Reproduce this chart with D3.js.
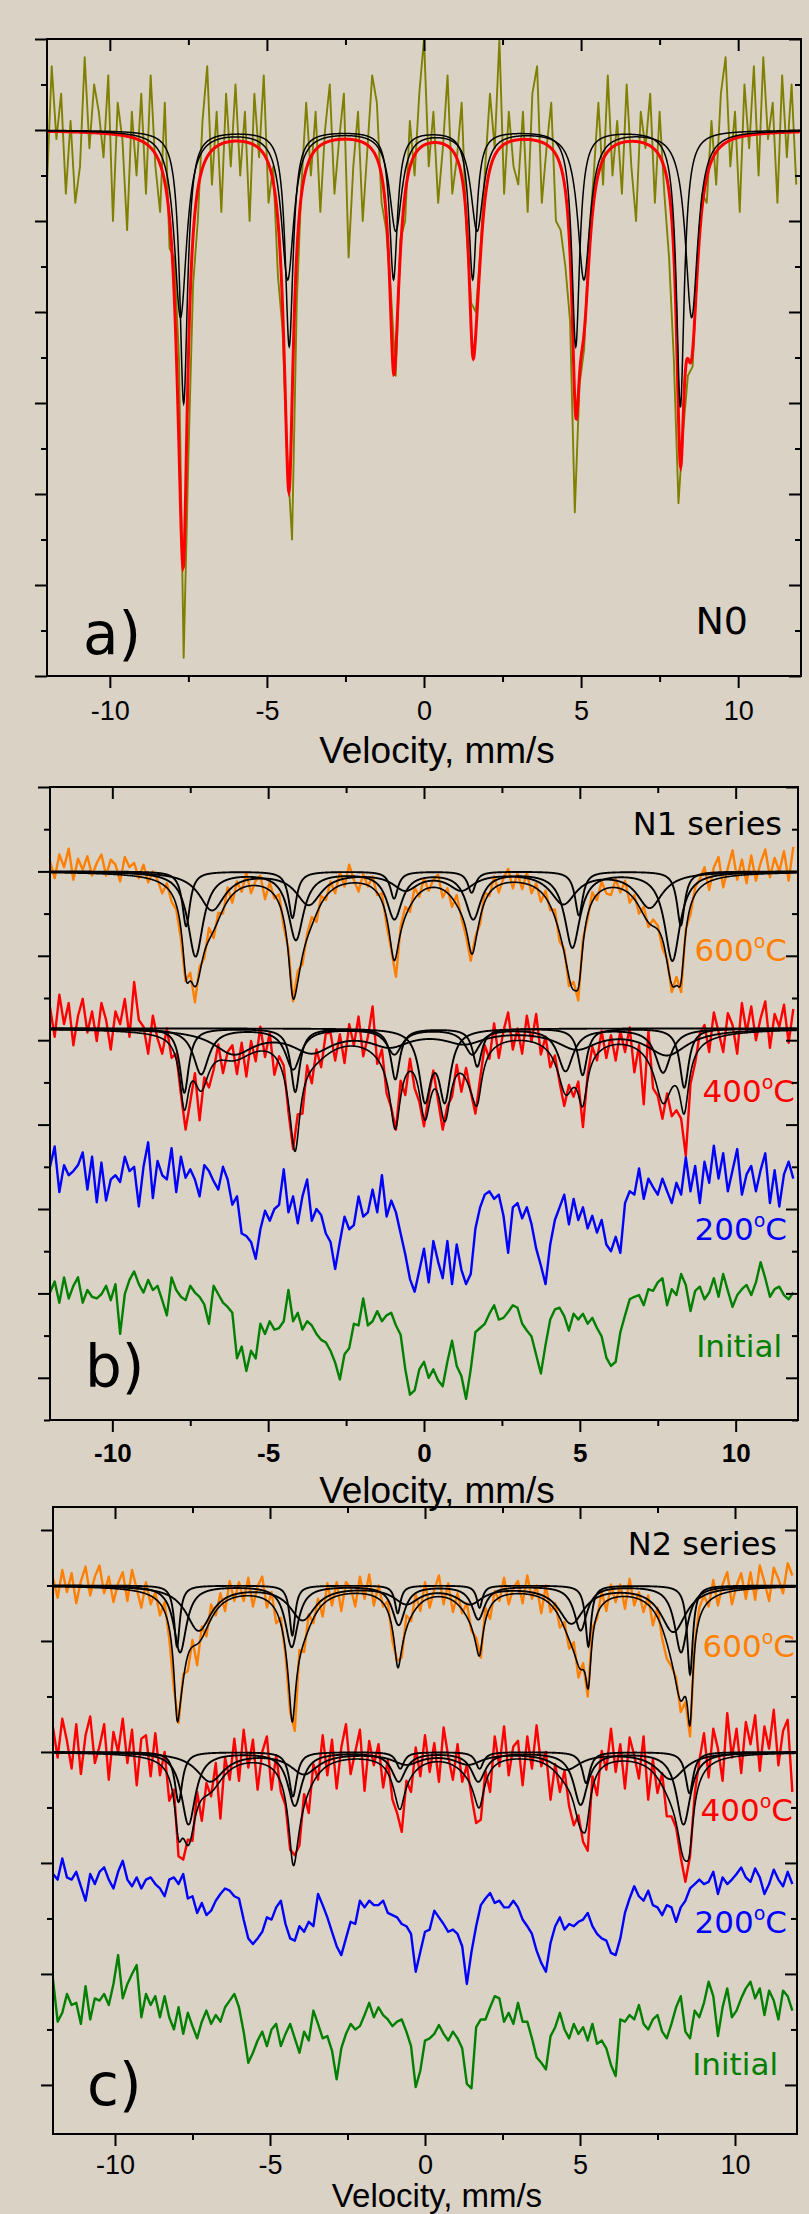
<!DOCTYPE html>
<html>
<head>
<meta charset="utf-8">
<script src="https://cdn.jsdelivr.net/npm/d3@7"></script>
<style>
  body { margin: 0; background: #dbd2c6; }
  svg { display: block; }
</style>
</head>
<body>
<svg id="chart" width="809" height="2214"></svg>
<script>
// ---- channel grid (mm/s) ----
var vStart = -12, vStep = 0.15, nChannels = 160;

// ---- N0 : transmission, % ----
var n0Trans = [
  99.4,100.7,99.9,100.4,99.3,100.1,99.2,99.6,100.8,99.8,
  100.5,100.2,99.7,100.6,99.0,100.3,99.9,98.9,100.2,99.5,
  100.4,99.3,100.6,99.6,99.1,100.3,98.7,98.6,97.5,94.2,
  96.4,98.3,99.0,100.1,100.7,99.4,100.2,99.1,100.4,99.6,
  100.5,99.5,100.2,99.0,100.4,99.7,100.6,99.2,99.6,98.4,
  97.8,96.4,95.5,98.1,99.4,100.3,99.5,100.2,99.1,100.0,
  100.5,99.3,99.9,100.4,98.6,99.6,100.2,99.0,99.8,100.6,
  100.3,99.2,98.9,98.2,97.3,98.8,99.0,100.1,99.5,100.4,
  101.0,99.6,100.2,99.2,99.8,100.6,99.3,99.7,100.3,98.9,
  98.1,98.0,98.7,99.6,100.4,99.8,101.0,99.3,100.2,99.6,
  99.4,100.2,99.1,100.4,100.7,99.2,99.8,100.3,99.0,98.9,
  98.5,97.9,95.8,97.2,97.6,98.8,99.5,100.3,99.4,100.6,
  99.5,100.1,99.3,100.5,99.6,99.0,100.2,99.8,100.4,99.2,
  100.2,99.3,98.6,97.5,95.9,96.7,97.3,97.4,98.5,99.3,
  99.2,100.1,99.4,100.4,100.8,99.6,100.2,99.1,100.5,99.8,
  100.7,99.5,100.8,99.9,100.3,99.2,100.6,99.7,100.5,99.4
];
var n0Base = 100;
var n0Pos = [[-7.65,-4.29,-0.97,1.55,4.83,8.16],[-7.75,-4.34,-0.9,1.69,5.09,8.52]];
var n0Depth = [[3.0,2.37,1.63,1.63,2.37,3.04],[2.05,1.63,1.09,1.09,1.63,2.05]];
var n0Fwhm = [0.3,0.48];

// ---- N1 series : relative to each spectrum's offset ----
var n1Offsets = [7.0,5.14,3.46,2.01];
var n1T600 = [
  .12,-.08,.2,.05,.27,-.1,.15,.02,.18,-.05,
  .1,.2,-.05,.14,.08,-.12,.17,.05,.1,-.08,
  .08,-.13,0,-.1,-.26,-.14,-.36,-.45,-.8,-1.3,
  -1.2,-1.55,-1.13,-1.03,-.67,-.79,-.49,-.5,-.19,-.37,
  -.12,-.24,-.02,-.26,-.11,-.05,-.33,-.13,-.32,-.27,
  -.66,-.92,-1.54,-1.18,-1.1,-.74,-.54,-.6,-.29,-.34,
  -.12,-.26,-.01,-.18,.08,-.1,-.24,-.03,-.18,-.06,
  -.28,-.26,-.64,-.93,-1.25,-.66,-.42,-.48,-.19,-.3,
  -.08,-.23,-.1,-.04,-.31,-.2,-.42,-.28,-.55,-.77,
  -1.06,-.77,-.62,-.25,-.29,-.06,-.25,-.08,.03,-.2,
  -.02,-.21,-.02,-.26,-.14,-.36,-.23,-.46,-.45,-.83,
  -.92,-1.36,-1.31,-1.53,-.8,-.56,-.25,-.34,-.12,-.26,
  -.28,-.09,-.25,-.11,-.37,-.28,-.5,-.42,-.66,-.57,
  -.64,-.91,-1.04,-1.43,-1.25,-1.43,-.68,-.51,-.19,-.09,
  .05,-.22,.05,.17,-.19,.04,.25,-.1,.14,-.14,
  .19,-.11,.1,.26,-.07,.16,0,.24,-.11,.29
];
var n1T400 = [
  .25,-.1,.4,.05,.3,-.2,.15,.35,-.05,.2,
  -.15,.3,.1,-.25,.2,.05,.35,-.1,.55,.1,
  .02,-.3,.15,-.12,-.3,0,-.35,-.3,-.78,-1.2,
  -.87,-.53,-1.09,-.58,-.7,-.49,-.19,-.53,-.28,-.2,
  -.54,-.17,-.57,-.15,-.39,.02,-.34,-.05,-.55,-.33,
  -.44,-.99,-1.43,-1.02,-1.01,-.44,-.65,-.25,-.46,-.06,
  -.05,-.38,-.07,-.41,.05,-.2,.14,-.33,-.1,.26,
  -.42,-.25,-.77,-.94,-1.2,-.62,-.79,-.36,-.71,-.87,
  -1.16,-.8,-.5,-.85,-1.2,-.92,-.81,-.43,-.75,-.47,
  -.75,-1.01,-.6,-.2,-.36,.06,-.35,-.03,.19,-.25,
  0,-.3,.15,-.16,.17,-.31,-.1,-.46,-.32,-.64,
  -.92,-.67,-.81,-.63,-1.17,-.55,-.22,-.38,-.03,-.35,
  -.08,-.38,-.03,-.28,.01,-.52,-.2,-.9,-.03,-.71,
  -.8,-1.07,-.77,-1.04,-.97,-1.07,-1.51,-.66,-.41,-.06,
  .04,-.28,.19,-.04,-.28,.18,.04,-.3,.3,-.05,
  .26,-.14,.12,.32,-.23,.17,.02,.28,-.17,.23
];
var n1T200 = [
  .04,.28,-.26,.06,-.06,-.01,.06,.21,-.23,.16,
  -.38,.09,-.36,-.11,-.06,-.14,.16,-.01,.04,-.43,
  .04,.33,-.33,.11,-.06,-.11,.26,-.26,.16,-.09,
  .01,-.11,-.31,.06,-.01,-.13,-.23,.04,-.11,-.41,
  -.31,-.75,-.78,-.85,-1.05,-.7,-.48,-.6,-.46,-.41,
  .01,-.5,-.31,-.63,-.31,-.11,-.6,-.46,-.53,-.75,
  -.85,-1.17,-.85,-.55,-.7,-.65,-.31,-.55,-.5,-.23,
  -.5,-.06,-.55,-.36,-.5,-.75,-1.0,-1.29,-1.44,-1.19,
  -.93,-1.33,-.84,-1.08,-1.28,-.84,-1.35,-.88,-1.18,-1.35,
  -1.23,-.69,-.44,-.29,-.25,-.34,-.29,-.54,-.98,-.44,
  -.39,-.57,-.44,-.64,-.93,-1.13,-1.35,-.88,-.59,-.44,
  -.29,-.64,-.34,-.59,-.44,-.69,-.54,-.74,-.59,-.88,
  -.96,-.79,-.98,-.39,-.25,-.29,.02,-.34,-.1,-.2,
  -.29,-.1,-.25,-.39,-.15,-.29,.15,-.25,.05,-.39,
  .1,-.15,.29,-.1,.2,-.25,0,.25,-.29,-.05,
  .05,-.25,0,.2,-.39,0,-.43,-.05,.1,-.1
];
var n1Init = [
  0,.13,-.12,.18,-.07,.08,.18,-.12,.03,-.05,
  -.07,-.02,.08,-.09,.1,-.49,-.02,.15,.25,.1,
  0,.15,.03,.08,-.09,-.27,.18,.03,-.05,-.09,
  .08,0,-.05,-.14,-.37,.08,-.02,-.12,-.17,-.24,
  -.78,-.64,-.93,-.69,-.78,-.37,-.49,-.34,-.44,-.42,
  -.34,.03,-.34,-.24,-.44,-.34,-.39,-.49,-.56,-.59,
  -.69,-.83,-1.03,-.73,-.66,-.37,-.39,-.07,-.39,-.34,
  -.22,-.34,-.27,-.24,-.39,-.5,-.91,-1.21,-1.16,-.91,
  -.82,-1.01,-.91,-1.04,-1.11,-.82,-.57,-.87,-.99,-1.26,
  -.91,-.47,-.42,-.37,-.25,-.15,-.32,-.3,-.23,-.15,
  -.18,-.37,-.45,-.52,-.74,-.96,-.62,-.32,-.2,-.18,
  -.28,-.45,-.25,-.32,-.25,-.37,-.3,-.42,-.52,-.77,
  -.87,-.82,-.47,-.27,-.08,-.05,-.03,-.15,.04,.02,
  .12,.17,-.15,.04,-.03,.22,.09,-.22,.02,.07,
  -.08,0,.17,-.05,.22,.02,-.17,-.03,.04,.09,
  -.03,.12,.36,.17,-.05,.04,.07,-.03,-.08,0
];
var n1P600Pos = [[-7.63,-4.22,-0.96,1.53,4.97,8.24],[-7.33,-4.11,-0.95,1.58,4.76,7.97],[-6.8,-3.7,-0.6,1.2,4.47,7.24]];
var n1P600Depth = [[.65,.55,.32,.25,.52,.64],[1.0,.8,.55,.55,.89,1.05],[.45,.38,.2,.2,.37,.42]];
var n1P600Fwhm = [0.3,0.6,1.0];
var n1P400Pos = [[-7.69,-4.13,-0.92,1.71,5.09,8.35],[-7.15,-4.2,-0.95,1.55,4.54,7.67],[-6.1,-3.6,-1.1,1.3,4.9,7.8],[0.03,0.67]];
var n1P400Depth = [[.76,.75,.6,.45,.55,.7],[.54,.48,.3,.3,.5,.52],[.28,.25,.18,.15,.22,.3],[.8,.8]];
var n1P400Fwhm = [0.35,0.6,1.6,0.45];

// ---- N2 series ----
var n2Offsets = [5.5,4.0,2.9,1.78];
var n2T600 = [
  .07,-.11,.14,-.06,.11,-.16,.04,.17,-.09,.08,
  .18,-.07,.08,-.15,.02,.12,-.14,.14,-.03,-.2,
  .03,-.17,-.06,-.27,-.15,-.48,-.93,-1.24,-.8,-.77,
  -.49,-.72,-.37,-.46,-.17,-.27,-.07,-.23,.04,-.14,
  .03,-.14,.07,-.19,-.01,.08,-.2,-.06,-.34,-.29,
  -.63,-1.14,-1.31,-.58,-.6,-.26,-.34,-.12,-.28,.02,
  -.18,.03,-.23,.03,-.02,-.19,.08,-.12,.1,-.18,
  0,-.19,-.14,-.5,-.68,-.65,-.27,-.32,-.08,-.23,
  .03,-.2,-.04,.09,-.17,.02,-.24,-.07,-.25,-.16,
  -.41,-.47,-.65,-.2,-.3,-.05,-.14,.07,-.17,-.02,
  .04,-.16,.09,-.12,0,-.25,0,-.24,-.16,-.38,
  -.33,-.57,-.51,-.83,-.7,-1.0,-.38,-.3,-.05,-.23,
  .01,-.15,.01,-.21,.06,-.18,-.06,-.24,-.09,-.36,
  -.2,-.48,-.66,-.73,-.83,-1.14,-1.05,-1.36,-.53,-.2,
  -.09,-.19,.05,-.18,.01,.12,-.17,0,.11,-.12,
  .12,-.13,.18,.03,-.14,.16,.06,-.07,.2,.09
];
var n2T400 = [
  .22,-.05,.3,.1,-.15,.25,-.2,.15,.32,-.1,
  .05,.25,-.25,.18,0,.3,-.1,.2,-.3,.12,
  .15,-.22,.17,-.21,0,-.44,-.34,-.94,-.97,-.79,
  -.8,-.36,-.62,-.28,-.4,-.1,-.6,-.05,-.25,.12,
  -.26,.2,-.14,.11,-.34,0,.14,-.34,-.03,-.36,
  -.48,-.88,-.93,-.84,-.38,-.55,-.11,-.25,.15,-.21,
  .11,-.33,.04,.25,-.2,0,.2,-.35,.1,-.12,
  .07,-.32,-.07,-.43,-.55,-.72,-.26,-.36,.04,-.22,
  .15,-.18,.08,-.27,.22,-.04,-.25,.07,-.27,-.12,
  -.4,-.64,-.61,-.17,-.36,.14,-.13,.23,-.21,.05,
  .1,-.3,.14,-.15,.24,-.13,0,-.43,-.11,-.36,
  -.17,-.49,-.66,-.57,-.81,-.89,-.22,-.39,.01,-.16,
  .21,-.18,.07,-.33,.13,-.03,-.24,.14,-.43,-.07,
  -.37,-.19,-.58,-.58,-.68,-.95,-1.17,-.94,-.38,-.08,
  .17,-.23,.21,.03,-.26,.35,-.05,.21,-.19,.27,
  .07,.33,-.17,.23,.03,.38,-.12,.19,.29,-.36
];
var n2T200 = [
  0,-.05,.14,-.03,-.05,.02,-.11,-.24,0,-.09,
  .02,.06,-.05,-.13,.02,.12,-.05,-.11,-.03,-.13,
  -.05,-.03,-.09,-.13,-.2,-.05,-.03,-.09,0,-.22,
  -.2,-.35,-.26,-.37,-.33,-.24,-.18,-.13,-.15,-.2,
  -.22,-.41,-.58,-.63,-.58,-.52,-.39,-.41,-.3,-.24,
  -.45,-.58,-.6,-.47,-.52,-.43,-.47,-.18,-.28,-.39,
  -.52,-.65,-.73,-.58,-.43,-.45,-.24,-.3,-.24,-.28,
  -.28,-.24,-.35,-.37,-.39,-.45,-.47,-.54,-.88,-.7,
  -.52,-.5,-.33,-.39,-.45,-.52,-.5,-.54,-.65,-.99,
  -.7,-.47,-.28,-.22,-.17,-.26,-.24,-.3,-.3,-.24,
  -.3,-.41,-.47,-.54,-.69,-.8,-.88,-.62,-.47,-.39,
  -.5,-.45,-.47,-.43,-.41,-.35,-.47,-.54,-.58,-.6,
  -.71,-.73,-.58,-.35,-.22,-.11,-.2,-.24,-.15,-.28,
  -.3,-.37,-.28,-.3,-.43,-.3,-.24,-.13,-.09,-.05,
  -.09,-.07,.02,-.18,-.03,-.09,-.05,0,.06,-.03,
  -.07,.05,-.03,-.18,-.09,.04,-.05,-.11,.02,-.09
];
var n2Init = [
  .17,-.21,-.13,.04,-.06,-.04,-.23,.11,-.19,0,
  -.02,.04,-.06,.13,.39,0,.13,.22,.3,-.17,
  .04,-.06,.02,-.17,.02,-.17,-.28,-.08,-.32,-.13,
  -.25,-.36,-.21,-.11,-.23,-.15,-.21,-.08,-.02,.04,
  -.08,-.3,-.58,-.49,-.38,-.3,-.43,-.28,-.23,-.43,
  -.32,-.23,-.36,-.49,-.3,-.38,-.11,-.23,-.36,-.34,
  -.47,-.73,-.45,-.32,-.23,-.28,-.25,-.15,-.04,-.17,
  -.08,-.15,-.19,-.25,-.21,-.19,-.3,-.43,-.8,-.65,
  -.38,-.36,-.32,-.24,-.32,-.38,-.3,-.36,-.45,-.77,
  -.81,-.26,-.19,-.19,-.08,.02,0,-.21,-.13,-.23,
  -.04,-.21,-.21,-.36,-.53,-.58,-.64,-.34,-.26,-.13,
  -.28,-.36,-.23,-.32,-.26,-.38,-.23,-.41,-.38,-.45,
  -.6,-.7,-.19,-.21,-.15,-.19,-.06,-.23,-.28,-.19,
  -.15,-.3,-.36,-.23,-.08,.02,-.3,-.36,-.11,-.17,
  -.04,.15,.02,-.34,-.08,.09,-.17,-.11,0,.09,
  .15,0,.09,-.15,.07,-.02,-.19,.07,.02,-.11
];
var n2P600Pos = [[-8.0,-4.28,-0.88,1.76,5.27,8.55],[-7.9,-4.3,-0.85,1.72,5.02,8.26],[-7.3,-3.95,-0.6,1.45,4.72,8.01]];
var n2P600Depth = [[.55,.45,.25,.2,.55,.8],[.6,.55,.35,.3,.4,.6],[.4,.3,.15,.15,.33,.41]];
var n2P600Fwhm = [0.22,0.5,1.0];
var n2P400Pos = [[-7.95,-4.26,-0.8,1.76,5.2,8.53],[-7.63,-4.2,-0.85,1.72,5.02,8.34],[-6.93,-3.9,-0.6,1.4,4.56,7.93]];
var n2P400Depth = [[.45,.4,.15,.15,.28,.37],[.65,.48,.26,.26,.47,.65],[.26,.19,.1,.1,.15,.24]];
var n2P400Fwhm = [0.3,0.55,1.1];

var xMajorTicks = [-10,-5,0,5,10];
var xMinorTicks = [-7.5,-2.5,2.5,7.5];

// ---- drawing ----
var axisFont = "'Liberation Sans', Arial, sans-serif";
var labelFont = "'DejaVu Sans', Verdana, sans-serif";
var colOrange = '#ff8000', colRed = '#ff0000', colBlue = '#0000ff', colGreen = '#008000', colOlive = '#808000';

var svg = d3.select('#chart');
svg.append('rect').attr('width', 809).attr('height', 2214).attr('fill', '#dbd2c6');

var velocity = d3.range(nChannels).map(function(i) { return vStart + i * vStep; });
var fitGrid = d3.range(-12, 11.97, 0.01);

function lorentz(v, pos, depth, fwhm) {
  var hw = fwhm / 2, s = 0;
  for (var k = 0; k < pos.length; k++) {
    var t = (v - pos[k]) / hw;
    s += depth[k] / (1 + t * t);
  }
  return s;
}

function makePanel(cfg) {
  var x = d3.scaleLinear().domain([-12, 12]).range([cfg.left, cfg.right]);
  var y = d3.scaleLinear().domain(cfg.yDomain).range([cfg.bottom, cfg.top]);
  var g = svg.append('g');
  g.append('clipPath').attr('id', 'clip-' + cfg.id).append('rect')
    .attr('x', cfg.left).attr('y', cfg.top)
    .attr('width', cfg.right - cfg.left).attr('height', cfg.bottom - cfg.top);
  var labels = g.append('g');
  var plot = g.append('g').attr('clip-path', 'url(#clip-' + cfg.id + ')');
  return { x: x, y: y, g: g, plot: plot, labels: labels, cfg: cfg };
}

function tickStyle(s) {
  s.select('.domain').remove();
  s.selectAll('.tick line').attr('stroke', '#000').attr('stroke-width', 2);
}

function drawAxes(P) {
  var cfg = P.cfg, x = P.x, y = P.y, g = P.g.append('g');
  var blank = function() { return ''; };
  g.append('g').attr('transform', 'translate(0,' + cfg.bottom + ')')
    .call(d3.axisBottom(x).tickValues(xMajorTicks).tickSize(12).tickFormat(function(d) { return String(d); }))
    .call(tickStyle)
    .call(function(s) {
      s.selectAll('.tick text').attr('y', cfg.labelOffset).attr('dy', null)
        .attr('fill', '#000').attr('font-family', axisFont)
        .attr('font-size', cfg.labelSize).attr('font-weight', cfg.labelWeight);
    });
  g.append('g').attr('transform', 'translate(0,' + cfg.bottom + ')')
    .call(d3.axisBottom(x).tickValues(xMinorTicks).tickSize(6).tickFormat(blank)).call(tickStyle);
  g.append('g').attr('transform', 'translate(0,' + cfg.top + ')')
    .call(d3.axisTop(x).tickValues(xMajorTicks).tickSize(-12).tickFormat(blank)).call(tickStyle);
  g.append('g').attr('transform', 'translate(0,' + cfg.top + ')')
    .call(d3.axisTop(x).tickValues(xMinorTicks).tickSize(-6).tickFormat(blank)).call(tickStyle);
  g.append('g').attr('transform', 'translate(' + cfg.left + ',0)')
    .call(d3.axisLeft(y).tickValues(cfg.yMajor).tickSize(12).tickFormat(blank)).call(tickStyle);
  g.append('g').attr('transform', 'translate(' + cfg.left + ',0)')
    .call(d3.axisLeft(y).tickValues(cfg.yMinor).tickSize(6).tickFormat(blank)).call(tickStyle);
  g.append('g').attr('transform', 'translate(' + cfg.right + ',0)')
    .call(d3.axisRight(y).tickValues(cfg.yMajor).tickSize(-12).tickFormat(blank)).call(tickStyle);
  g.append('g').attr('transform', 'translate(' + cfg.right + ',0)')
    .call(d3.axisRight(y).tickValues(cfg.yMinor).tickSize(-6).tickFormat(blank)).call(tickStyle);
  g.append('rect').attr('x', cfg.left).attr('y', cfg.top)
    .attr('width', cfg.right - cfg.left).attr('height', cfg.bottom - cfg.top)
    .attr('fill', 'none').attr('stroke', '#000').attr('stroke-width', 2);
  g.append('text').attr('x', 437).attr('y', cfg.titleY).attr('text-anchor', 'middle')
    .attr('font-family', axisFont).attr('font-size', cfg.titleSize || 37).attr('fill', '#000')
    .text('Velocity, mm/s');
}

function drawData(P, values, offset, color, width) {
  var line = d3.line()
    .x(function(d, i) { return P.x(velocity[i]); })
    .y(function(d) { return P.y(offset + d); });
  P.plot.append('path').datum(values).attr('d', line)
    .attr('fill', 'none').attr('stroke', color).attr('stroke-width', width)
    .attr('stroke-linejoin', 'round');
}

function drawFit(P, base, pos, depth, fwhm, totalColor, totalWidth, compWidth) {
  var line = d3.line().x(function(d) { return P.x(d[0]); }).y(function(d) { return P.y(d[1]); });
  var comps = pos.map(function(p, k) {
    return fitGrid.map(function(v) { return [v, base - lorentz(v, p, depth[k], fwhm[k])]; });
  });
  var total = fitGrid.map(function(v) {
    var s = 0;
    for (var k = 0; k < pos.length; k++) s += lorentz(v, pos[k], depth[k], fwhm[k]);
    return [v, base - s];
  });
  P.plot.append('path').datum(total).attr('d', line).attr('fill', 'none')
    .attr('stroke', totalColor).attr('stroke-width', totalWidth);
  comps.forEach(function(c) {
    P.plot.append('path').datum(c).attr('d', line).attr('fill', 'none')
      .attr('stroke', '#000').attr('stroke-width', compWidth);
  });
}

function label(P, xPos, yPos, text, size, color, anchor) {
  P.labels.append('text').attr('x', xPos).attr('y', yPos).attr('text-anchor', anchor || 'end')
    .attr('font-family', labelFont).attr('font-size', size).attr('fill', color).text(text);
}

function tempLabel(P, xEnd, yBase, num, color) {
  var t = P.labels.append('text').attr('x', xEnd).attr('y', yBase).attr('text-anchor', 'end')
    .attr('font-family', labelFont).attr('font-size', 31).attr('fill', color);
  t.append('tspan').text(num);
  t.append('tspan').attr('font-size', 19).attr('dy', -13).text('o');
  t.append('tspan').attr('dy', 13).text('C');
}

// ---- panel a ----
var A = makePanel({ id: 'a', left: 47, right: 801, top: 39, bottom: 676, yDomain: [94, 101],
  yMajor: d3.range(94, 101.5, 1), yMinor: d3.range(94.5, 101, 1),
  labelOffset: 44, labelSize: 27, labelWeight: 'normal', titleY: 763 });
label(A, 83, 654, 'a)', 58, '#000', 'start');
label(A, 748, 634, 'N0', 38, '#000');
drawData(A, n0Trans, 0, colOlive, 1.9);
drawFit(A, n0Base, n0Pos, n0Depth, n0Fwhm, colRed, 3, 1.5);
drawAxes(A);

// ---- panel b ----
var B = makePanel({ id: 'b', left: 50, right: 798, top: 787, bottom: 1420, yDomain: [0.5, 8.0],
  yMajor: d3.range(1, 8.5, 1), yMinor: d3.range(0.5, 8, 1),
  labelOffset: 42, labelSize: 26, labelWeight: 'bold', titleY: 1503 });
label(B, 85, 1387, 'b)', 58, '#000', 'start');
label(B, 782, 835, 'N1 series', 32, '#000');
tempLabel(B, 787, 961, '600', colOrange);
tempLabel(B, 795, 1102, '400', colRed);
tempLabel(B, 787, 1240, '200', colBlue);
label(B, 782, 1357, 'Initial', 31, colGreen);
drawData(B, n1T600, n1Offsets[0], colOrange, 2.4);
drawData(B, n1T400, n1Offsets[1], colRed, 2.4);
drawData(B, n1T200, n1Offsets[2], colBlue, 2.4);
drawData(B, n1Init, n1Offsets[3], colGreen, 2.4);
drawFit(B, n1Offsets[0], n1P600Pos, n1P600Depth, n1P600Fwhm, '#000', 1.6, 1.9);
drawFit(B, n1Offsets[1], n1P400Pos, n1P400Depth, n1P400Fwhm, '#000', 1.6, 1.9);
drawAxes(B);

// ---- panel c ----
var C = makePanel({ id: 'c', left: 53, right: 797, top: 1507, bottom: 2134, yDomain: [0.558, 6.207],
  yMajor: d3.range(1, 6.5, 1), yMinor: d3.range(1.5, 6, 1),
  labelOffset: 40, labelSize: 27, labelWeight: 'normal', titleY: 2207, titleSize: 33 });
label(C, 87, 2105, 'c)', 58, '#000', 'start');
label(C, 777, 1555, 'N2 series', 32, '#000');
tempLabel(C, 795, 1657, '600', colOrange);
tempLabel(C, 793, 1821, '400', colRed);
tempLabel(C, 787, 1933, '200', colBlue);
label(C, 778, 2075, 'Initial', 31, colGreen);
drawData(C, n2T600, n2Offsets[0], colOrange, 2.4);
drawData(C, n2T400, n2Offsets[1], colRed, 2.4);
drawData(C, n2T200, n2Offsets[2], colBlue, 2.4);
drawData(C, n2Init, n2Offsets[3], colGreen, 2.4);
drawFit(C, n2Offsets[0], n2P600Pos, n2P600Depth, n2P600Fwhm, '#000', 1.6, 1.9);
drawFit(C, n2Offsets[1], n2P400Pos, n2P400Depth, n2P400Fwhm, '#000', 1.6, 1.9);
drawAxes(C);
</script>
</body>
</html>
